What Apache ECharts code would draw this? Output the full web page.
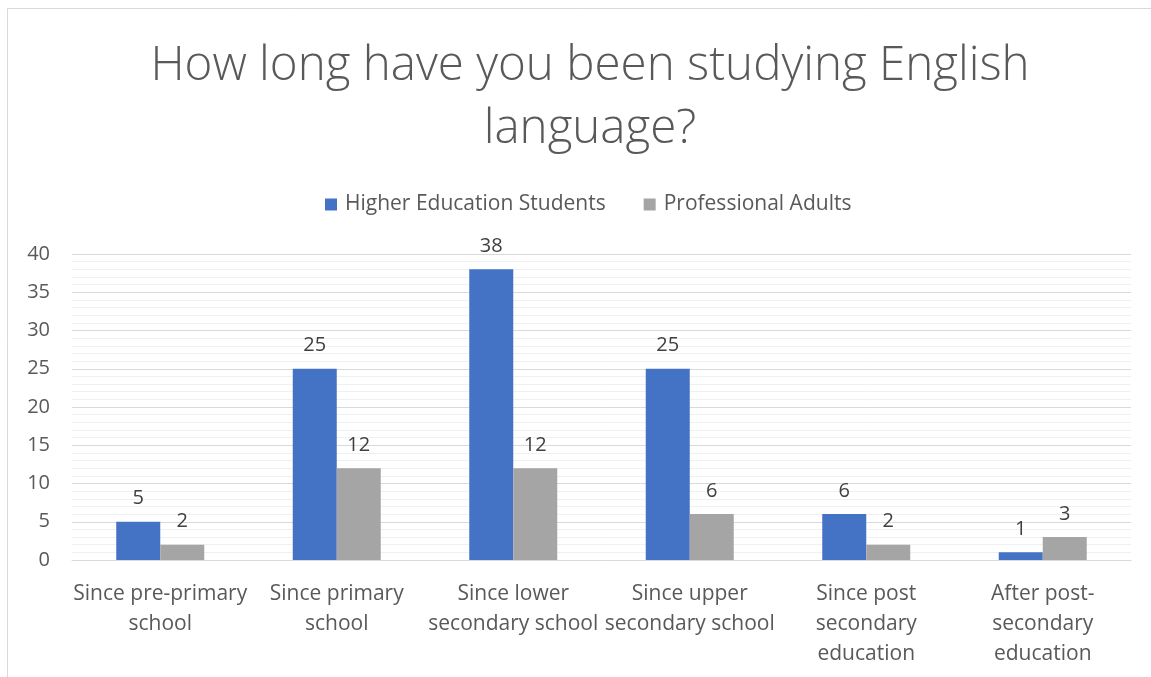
<!DOCTYPE html>
<html>
<head>
<meta charset="utf-8">
<script src="https://cdn.jsdelivr.net/npm/echarts@6/dist/echarts.min.js"></script>
<style>
  html, body { margin: 0; padding: 0; background: #fff; }
  #chart { width: 1151px; height: 677px; }
</style>
</head>
<body>
<div id="chart"></div>
<script>
// Survey answers: how long respondents have studied English
const categories = [
  'Since pre-primary\nschool',
  'Since primary\nschool',
  'Since lower\nsecondary school',
  'Since upper\nsecondary school',
  'Since post\nsecondary\neducation',
  'After post-\nsecondary\neducation'
];
const higherEducationStudents = [5, 25, 38, 25, 6, 1];
const professionalAdults = [2, 12, 12, 6, 2, 3];
const seriesNames = ['Higher Education Students', 'Professional Adults'];

const FONT = '"Open Sans", "Liberation Sans", sans-serif';
const chart = echarts.init(document.getElementById('chart'));

const labelStyle = {
  show: true,
  position: 'top',
  distance: 13,
  color: '#404040',
  fontSize: 20,
  fontFamily: FONT
};

chart.setOption({
  animation: false,
  backgroundColor: '#ffffff',
  title: {
    text: 'How long have you been studying English\nlanguage?',
    left: 585,
    textAlign: 'center',
    top: 30,
    textStyle: {
      color: '#595959',
      fontSize: 47.5,
      fontWeight: 300,
      fontFamily: FONT,
      lineHeight: 63
    }
  },
  legend: {
    top: 189,
    left: 320,
    itemWidth: 12,
    itemHeight: 12,
    itemGap: 38,
    icon: 'rect',
    textStyle: { color: '#595959', fontSize: 21, fontFamily: FONT, padding: [0, 0, 0, 3] }
  },
  grid: { left: 72, right: 20, top: 254, bottom: 117 },
  xAxis: {
    type: 'category',
    data: categories,
    axisLine: { lineStyle: { color: '#d9d9d9', width: 1 } },
    axisTick: { show: false },
    axisLabel: {
      color: '#595959',
      fontSize: 21,
      fontFamily: FONT,
      lineHeight: 30,
      margin: 19,
      interval: 0
    }
  },
  yAxis: {
    type: 'value',
    min: 0,
    max: 40,
    interval: 5,
    axisLine: { show: false },
    axisTick: { show: false },
    axisLabel: { color: '#595959', fontSize: 20, fontFamily: FONT, margin: 22 },
    splitLine: { lineStyle: { color: '#d9d9d9', width: 1 } },
    minorTick: { show: false, splitNumber: 5 },
    minorSplitLine: { show: true, lineStyle: { color: '#f0f0f0', width: 1 } }
  },
  series: [
    {
      name: seriesNames[0],
      type: 'bar',
      data: higherEducationStudents,
      barWidth: 44,
      barGap: '0%',
      itemStyle: { color: '#4472C4' },
      label: labelStyle
    },
    {
      name: seriesNames[1],
      type: 'bar',
      data: professionalAdults,
      barWidth: 44,
      barGap: '0%',
      itemStyle: { color: '#A5A5A5' },
      label: labelStyle
    }
  ],
  graphic: [
    {
      type: 'rect',
      silent: true,
      shape: { x: 7.5, y: 8.5, width: 1200, height: 720 },
      style: { fill: 'none', stroke: '#d9d9d9', lineWidth: 1 }
    }
  ]
});
</script>
</body>
</html>
